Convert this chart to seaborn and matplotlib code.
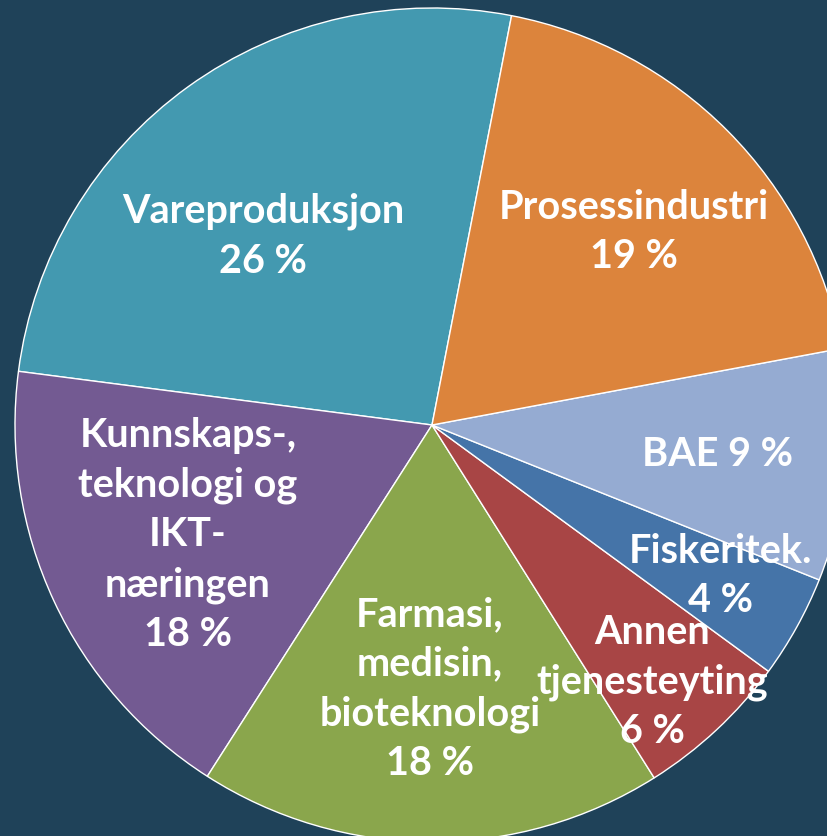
import matplotlib.pyplot as plt
import seaborn as sns

# ──────────────────────────────────────────
# DATA
# ──────────────────────────────────────────
sectors = ["Vareproduksjon", "Kunnskaps-,\nteknologi og\nIKT-\nnæringen",
           "Farmasi,\nmedisin,\nbioteknologi", "Annen\ntjenesteyting",
           "Fiskeritek.", "BAE", "Prosessindustri"]
shares = [26, 18, 18, 6, 4, 9, 19]
# how the label and the percent are joined for each slice
label_sep = ["\n", "\n", "\n", "\n", "\n", " ", "\n"]

colors = ["#4399b0", "#735a92", "#8aa64c", "#a84545",
          "#4574a8", "#95abd2", "#dc843c"]
bg = "#1f4259"

# label centres (pixel coords in the 828x836 image)
label_px = [(263, 236), (188, 535), (430, 689), (652, 682),
            (720, 576), (718, 455), (634, 232)]

# pie centre and radius in pixels
cx, cy, rad = 432, 425, 417
W, H = 828, 836

sns.set_theme(style="white")
plt.rcParams["font.family"] = ["Lato", "DejaVu Sans"]

fig = plt.figure(figsize=(W / 100, H / 100), dpi=100, facecolor=bg)
ax = fig.add_axes([0, 0, 1, 1])
ax.set_facecolor(bg)

ax.pie(shares, colors=colors, startangle=79, counterclock=True,
       radius=1, wedgeprops=dict(edgecolor="white", linewidth=1.0))

for name, val, sep, (px, py) in zip(sectors, shares, label_sep, label_px):
    x = (px - cx) / rad
    y = (cy - py) / rad
    ax.text(x, y, f"{name}{sep}{val} %", ha="center", va="center",
            multialignment="center", color="white", fontsize=28.5,
            fontweight="bold", linespacing=1.42)

ax.set_xlim(-cx / rad, (W - cx) / rad)
ax.set_ylim(-(H - cy) / rad, cy / rad)
ax.set_aspect("equal")
ax.axis("off")

fig.savefig("out.png", dpi=100, facecolor=bg)
